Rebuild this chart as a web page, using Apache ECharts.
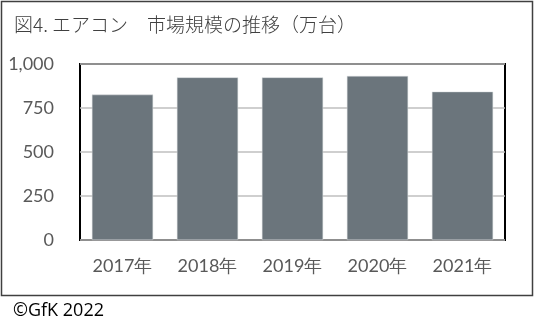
<!DOCTYPE html>
<html><head><meta charset="utf-8">
<script src="https://cdn.jsdelivr.net/npm/echarts@6/dist/echarts.min.js"></script>
<style>html,body{margin:0;padding:0;background:#fff}#c{width:542px;height:327px}</style>
</head><body><div id="c"></div>
<script>
const categories = ['2017年','2018年','2019年','2020年','2021年'];
const values = [826, 924, 924, 932, 843];
const yTicks = [0, 250, 500, 750, 1000];
const titleText = '図4. エアコン　市場規模の推移（万台）';
const footerText = '©GfK 2022';

const chart = echarts.init(document.getElementById('c'), null, {renderer:'canvas'});
chart.setOption({
  animation:false,
  backgroundColor:'#fff',
  title:{text:titleText,left:9,top:10,textStyle:{fontFamily:'Noto Sans CJK JP',fontWeight:300,fontSize:19,color:'#404040'}},
  graphic:[
    {type:'rect',shape:{x:1.5,y:1.5,width:531,height:294},style:{fill:'none',stroke:'#404040',lineWidth:1.5},silent:true},
    {type:'text',left:13,top:302,style:{text:footerText,font:'18px "Open Sans", sans-serif',fill:'#000'}}
  ],
  grid:{left:80,right:37,top:64,bottom:87,show:true,borderColor:'#000',borderWidth:2,backgroundColor:'transparent'},
  xAxis:{type:'category',data:categories,axisLine:{show:false},axisTick:{show:false},
    axisLabel:{fontFamily:'Lato',fontSize:18,color:'#595959',margin:17}},
  yAxis:{type:'value',min:yTicks[0],max:yTicks[yTicks.length-1],interval:250,
    axisLine:{show:false},axisTick:{show:false},
    splitLine:{lineStyle:{color:'#bfbfbf',width:1.5}},
    axisLabel:{fontFamily:'Lato',fontSize:18,color:'#595959',margin:26,
      formatter:v=>v.toLocaleString('en-US')}},
  series:[{type:'bar',data:values,barCategoryGap:'28%',
    itemStyle:{color:'#6b757c',borderColor:'#d9dcde',borderWidth:0.5}}]
});
</script></body></html>
